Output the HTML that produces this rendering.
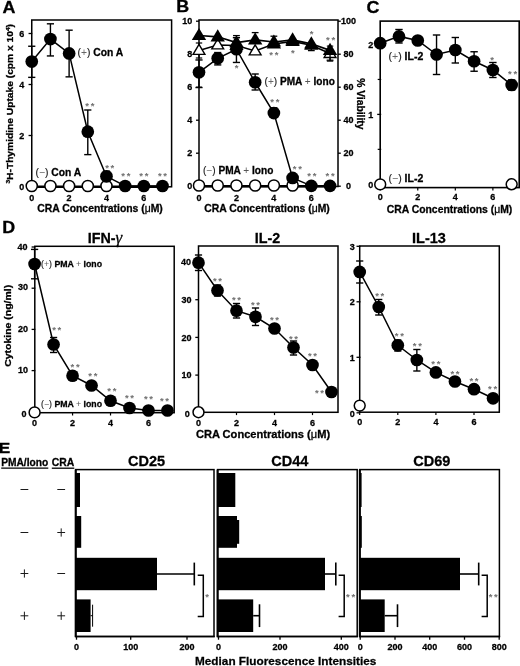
<!DOCTYPE html>
<html><head><meta charset="utf-8"><title>Figure</title>
<style>
html,body{margin:0;padding:0;background:#fff;}
body{width:520px;height:666px;overflow:hidden;}
svg{display:block;font-family:'Liberation Sans', Arial, sans-serif;}
svg text{stroke:#000;stroke-width:.28px;}
</style></head><body>
<svg width="520" height="666" viewBox="0 0 520 666">
<rect x="0" y="0" width="520" height="666" fill="#fff"/>
<text transform="translate(2.60,12.60) scale(1.12,1)" font-size="16" font-weight="bold">A</text>
<rect x="31.75" y="20.00" width="139.85" height="166.80" fill="none" stroke="#000" stroke-width="1.5"/>
<text x="24.20" y="189.70" font-size="9" font-weight="bold" text-anchor="end" fill="#000">0</text>
<line x1="28.55" y1="186.50" x2="32.25" y2="186.50" stroke="#000" stroke-width="1.3"/>
<text x="31.75" y="201.20" font-size="9" font-weight="bold" text-anchor="middle" fill="#000">0</text>
<text x="24.20" y="138.70" font-size="9" font-weight="bold" text-anchor="end" fill="#000">2</text>
<line x1="28.55" y1="135.50" x2="32.25" y2="135.50" stroke="#000" stroke-width="1.3"/>
<text x="69.11" y="201.20" font-size="9" font-weight="bold" text-anchor="middle" fill="#000">2</text>
<text x="24.20" y="87.70" font-size="9" font-weight="bold" text-anchor="end" fill="#000">4</text>
<line x1="28.55" y1="84.50" x2="32.25" y2="84.50" stroke="#000" stroke-width="1.3"/>
<text x="106.47" y="201.20" font-size="9" font-weight="bold" text-anchor="middle" fill="#000">4</text>
<text x="24.20" y="36.70" font-size="9" font-weight="bold" text-anchor="end" fill="#000">6</text>
<line x1="28.55" y1="33.50" x2="32.25" y2="33.50" stroke="#000" stroke-width="1.3"/>
<text x="143.83" y="201.20" font-size="9" font-weight="bold" text-anchor="middle" fill="#000">6</text>
<text transform="translate(13.4,103.8) rotate(-90) scale(1.1,1)" font-size="9.3" font-weight="bold" text-anchor="middle"><tspan font-size="6" dy="-3">3</tspan><tspan dy="3">H-Thymidine Uptake (cpm x 10</tspan><tspan font-size="6" dy="-3.3">4</tspan><tspan dy="3.3">)</tspan></text>
<text x="100.00" y="212.00" font-size="10.4" font-weight="bold" text-anchor="middle">CRA Concentrations (<tspan font-weight="normal">μ</tspan>M)</text>
<polyline points="31.75,186.80 50.43,186.80 69.11,186.80 87.79,186.80 106.47,186.80 125.15,186.80 143.83,186.80 162.51,186.80" fill="none" stroke="#000" stroke-width="2.5"/>
<circle cx="31.75" cy="186.00" r="5.55" fill="#fff" stroke="#000" stroke-width="1.5"/>
<circle cx="50.43" cy="186.00" r="5.55" fill="#fff" stroke="#000" stroke-width="1.5"/>
<circle cx="69.11" cy="186.00" r="5.55" fill="#fff" stroke="#000" stroke-width="1.5"/>
<circle cx="87.79" cy="186.00" r="5.55" fill="#fff" stroke="#000" stroke-width="1.5"/>
<circle cx="106.47" cy="186.00" r="5.55" fill="#fff" stroke="#000" stroke-width="1.5"/>
<line x1="31.75" y1="77.36" x2="31.75" y2="46.25" stroke="#000" stroke-width="1.4"/>
<line x1="28.15" y1="77.36" x2="35.35" y2="77.36" stroke="#000" stroke-width="1.4"/>
<line x1="28.15" y1="46.25" x2="35.35" y2="46.25" stroke="#000" stroke-width="1.4"/>
<line x1="50.43" y1="55.94" x2="50.43" y2="23.81" stroke="#000" stroke-width="1.4"/>
<line x1="46.83" y1="55.94" x2="54.03" y2="55.94" stroke="#000" stroke-width="1.4"/>
<line x1="46.83" y1="23.81" x2="54.03" y2="23.81" stroke="#000" stroke-width="1.4"/>
<line x1="69.11" y1="76.85" x2="69.11" y2="30.19" stroke="#000" stroke-width="1.4"/>
<line x1="65.51" y1="76.85" x2="72.71" y2="76.85" stroke="#000" stroke-width="1.4"/>
<line x1="65.51" y1="30.19" x2="72.71" y2="30.19" stroke="#000" stroke-width="1.4"/>
<line x1="87.79" y1="154.62" x2="87.79" y2="110.00" stroke="#000" stroke-width="1.4"/>
<line x1="84.19" y1="154.62" x2="91.39" y2="154.62" stroke="#000" stroke-width="1.4"/>
<line x1="84.19" y1="110.00" x2="91.39" y2="110.00" stroke="#000" stroke-width="1.4"/>
<line x1="106.47" y1="181.40" x2="106.47" y2="171.20" stroke="#000" stroke-width="1.4"/>
<line x1="102.87" y1="181.40" x2="110.07" y2="181.40" stroke="#000" stroke-width="1.4"/>
<line x1="102.87" y1="171.20" x2="110.07" y2="171.20" stroke="#000" stroke-width="1.4"/>
<polyline points="31.75,61.55 50.43,39.11 69.11,53.39 87.79,131.68 106.47,176.30 125.15,185.99 143.83,185.99 162.51,185.99" fill="none" stroke="#000" stroke-width="1.5"/>
<circle cx="31.75" cy="61.55" r="6.35" fill="#000"/>
<circle cx="50.43" cy="39.11" r="6.35" fill="#000"/>
<circle cx="69.11" cy="53.39" r="6.35" fill="#000"/>
<circle cx="87.79" cy="131.68" r="6.35" fill="#000"/>
<circle cx="106.47" cy="176.30" r="6.35" fill="#000"/>
<circle cx="125.15" cy="185.99" r="6.35" fill="#000"/>
<circle cx="143.83" cy="185.99" r="6.35" fill="#000"/>
<circle cx="162.51" cy="185.99" r="6.35" fill="#000"/>
<text x="77.60" y="55.60" font-size="10.3" font-weight="bold"><tspan font-weight="normal" fill="#1a1a1a" style="stroke:#1a1a1a;stroke-width:.15px">(<tspan fill="#666" style="stroke:none">+</tspan>)</tspan> Con A</text>
<text x="35.60" y="175.50" font-size="10.3" font-weight="bold"><tspan font-weight="normal" fill="#1a1a1a" style="stroke:#1a1a1a;stroke-width:.15px">(<tspan fill="#666" style="stroke:none">−</tspan>)</tspan> Con A</text>
<text x="90.64" y="109.47" font-size="9.5" font-weight="bold" text-anchor="middle" fill="#707070" style="stroke:none" letter-spacing="1.7">**</text>
<text x="110.62" y="171.47" font-size="9.5" font-weight="bold" text-anchor="middle" fill="#707070" style="stroke:none" letter-spacing="1.7">**</text>
<text x="126.70" y="178.87" font-size="9.5" font-weight="bold" text-anchor="middle" fill="#707070" style="stroke:none" letter-spacing="1.7">**</text>
<text x="144.68" y="178.87" font-size="9.5" font-weight="bold" text-anchor="middle" fill="#707070" style="stroke:none" letter-spacing="1.7">**</text>
<text x="163.36" y="178.87" font-size="9.5" font-weight="bold" text-anchor="middle" fill="#707070" style="stroke:none" letter-spacing="1.7">**</text>
<text transform="translate(176.30,12.40) scale(1.12,1)" font-size="16" font-weight="bold">B</text>
<rect x="199.00" y="20.00" width="139.00" height="166.50" fill="none" stroke="#000" stroke-width="1.5"/>
<text x="192.30" y="189.40" font-size="9" font-weight="bold" text-anchor="end" fill="#000">0</text>
<line x1="196.00" y1="186.20" x2="199.00" y2="186.20" stroke="#000" stroke-width="1.3"/>
<line x1="338.00" y1="186.20" x2="340.80" y2="186.20" stroke="#000" stroke-width="1.3"/>
<text x="348.40" y="189.40" font-size="9" font-weight="bold" text-anchor="middle" fill="#000">0</text>
<text x="192.30" y="156.40" font-size="9" font-weight="bold" text-anchor="end" fill="#000">2</text>
<line x1="196.00" y1="153.20" x2="199.00" y2="153.20" stroke="#000" stroke-width="1.3"/>
<line x1="338.00" y1="153.20" x2="340.80" y2="153.20" stroke="#000" stroke-width="1.3"/>
<text x="348.40" y="156.40" font-size="9" font-weight="bold" text-anchor="middle" fill="#000">20</text>
<text x="192.30" y="123.40" font-size="9" font-weight="bold" text-anchor="end" fill="#000">4</text>
<line x1="196.00" y1="120.20" x2="199.00" y2="120.20" stroke="#000" stroke-width="1.3"/>
<line x1="338.00" y1="120.20" x2="340.80" y2="120.20" stroke="#000" stroke-width="1.3"/>
<text x="348.40" y="123.40" font-size="9" font-weight="bold" text-anchor="middle" fill="#000">40</text>
<text x="192.30" y="90.40" font-size="9" font-weight="bold" text-anchor="end" fill="#000">6</text>
<line x1="196.00" y1="87.20" x2="202.00" y2="87.20" stroke="#000" stroke-width="1.3"/>
<line x1="338.00" y1="87.20" x2="340.80" y2="87.20" stroke="#000" stroke-width="1.3"/>
<text x="348.40" y="90.40" font-size="9" font-weight="bold" text-anchor="middle" fill="#000">60</text>
<text x="192.30" y="57.40" font-size="9" font-weight="bold" text-anchor="end" fill="#000">8</text>
<line x1="196.00" y1="54.20" x2="199.00" y2="54.20" stroke="#000" stroke-width="1.3"/>
<line x1="338.00" y1="54.20" x2="340.80" y2="54.20" stroke="#000" stroke-width="1.3"/>
<text x="348.40" y="57.40" font-size="9" font-weight="bold" text-anchor="middle" fill="#000">80</text>
<text x="192.30" y="24.40" font-size="9" font-weight="bold" text-anchor="end" fill="#000">10</text>
<line x1="196.00" y1="21.20" x2="199.00" y2="21.20" stroke="#000" stroke-width="1.3"/>
<line x1="338.00" y1="21.20" x2="340.80" y2="21.20" stroke="#000" stroke-width="1.3"/>
<text x="348.40" y="24.40" font-size="9" font-weight="bold" text-anchor="middle" fill="#000">100</text>
<text x="199.00" y="201.20" font-size="9" font-weight="bold" text-anchor="middle" fill="#000">0</text>
<text x="236.44" y="201.20" font-size="9" font-weight="bold" text-anchor="middle" fill="#000">2</text>
<text x="273.88" y="201.20" font-size="9" font-weight="bold" text-anchor="middle" fill="#000">4</text>
<text x="311.32" y="201.20" font-size="9" font-weight="bold" text-anchor="middle" fill="#000">6</text>
<text x="267.00" y="212.00" font-size="10.4" font-weight="bold" text-anchor="middle">CRA Concentrations (<tspan font-weight="normal">μ</tspan>M)</text>
<text transform="translate(357,103.8) rotate(90)" font-size="10.3" font-weight="bold" text-anchor="middle">% Viability</text>
<polyline points="199.00,186.30 217.72,186.30 236.44,186.30 255.16,186.30 273.88,186.30 292.60,186.30 311.32,186.30 330.04,186.30" fill="none" stroke="#000" stroke-width="2.5"/>
<circle cx="199.00" cy="185.50" r="5.55" fill="#fff" stroke="#000" stroke-width="1.5"/>
<circle cx="217.72" cy="185.50" r="5.55" fill="#fff" stroke="#000" stroke-width="1.5"/>
<circle cx="236.44" cy="185.50" r="5.55" fill="#fff" stroke="#000" stroke-width="1.5"/>
<circle cx="255.16" cy="185.50" r="5.55" fill="#fff" stroke="#000" stroke-width="1.5"/>
<circle cx="273.88" cy="185.50" r="5.55" fill="#fff" stroke="#000" stroke-width="1.5"/>
<circle cx="292.60" cy="185.50" r="5.55" fill="#fff" stroke="#000" stroke-width="1.5"/>
<polyline points="199.00,50.50 217.72,45.00 236.44,45.50 255.16,51.00 273.88,44.00 292.60,41.40 311.32,45.20 330.04,53.60" fill="none" stroke="#000" stroke-width="1.6"/>
<line x1="199.00" y1="43.00" x2="199.00" y2="58.00" stroke="#000" stroke-width="1.2"/>
<line x1="195.80" y1="43.00" x2="202.20" y2="43.00" stroke="#000" stroke-width="1.2"/>
<line x1="195.80" y1="58.00" x2="202.20" y2="58.00" stroke="#000" stroke-width="1.2"/>
<line x1="330.04" y1="46.10" x2="330.04" y2="61.10" stroke="#000" stroke-width="1.2"/>
<line x1="326.84" y1="46.10" x2="333.24" y2="46.10" stroke="#000" stroke-width="1.2"/>
<line x1="326.84" y1="61.10" x2="333.24" y2="61.10" stroke="#000" stroke-width="1.2"/>
<polygon points="199.00,44.40 193.10,54.40 204.90,54.40" fill="#fff" stroke="#000" stroke-width="1.4" stroke-linejoin="miter"/>
<polygon points="217.72,38.90 211.82,48.90 223.62,48.90" fill="#fff" stroke="#000" stroke-width="1.4" stroke-linejoin="miter"/>
<polygon points="236.44,39.40 230.54,49.40 242.34,49.40" fill="#fff" stroke="#000" stroke-width="1.4" stroke-linejoin="miter"/>
<polygon points="255.16,44.90 249.26,54.90 261.06,54.90" fill="#fff" stroke="#000" stroke-width="1.4" stroke-linejoin="miter"/>
<polygon points="273.88,36.40 266.68,48.60 281.08,48.60" fill="#000"/>
<polygon points="292.60,33.80 285.40,46.00 299.80,46.00" fill="#000"/>
<polygon points="311.32,37.60 304.12,49.80 318.52,49.80" fill="#000"/>
<polygon points="330.04,47.50 324.14,57.50 335.94,57.50" fill="#fff" stroke="#000" stroke-width="1.4" stroke-linejoin="miter"/>
<line x1="199.00" y1="87.53" x2="199.00" y2="59.97" stroke="#000" stroke-width="1.4"/>
<line x1="195.40" y1="87.53" x2="202.60" y2="87.53" stroke="#000" stroke-width="1.4"/>
<line x1="195.40" y1="59.97" x2="202.60" y2="59.97" stroke="#000" stroke-width="1.4"/>
<line x1="217.72" y1="64.92" x2="217.72" y2="52.55" stroke="#000" stroke-width="1.4"/>
<line x1="214.12" y1="64.92" x2="221.32" y2="64.92" stroke="#000" stroke-width="1.4"/>
<line x1="214.12" y1="52.55" x2="221.32" y2="52.55" stroke="#000" stroke-width="1.4"/>
<line x1="236.44" y1="62.45" x2="236.44" y2="37.70" stroke="#000" stroke-width="1.4"/>
<line x1="232.84" y1="62.45" x2="240.04" y2="62.45" stroke="#000" stroke-width="1.4"/>
<line x1="232.84" y1="37.70" x2="240.04" y2="37.70" stroke="#000" stroke-width="1.4"/>
<line x1="255.16" y1="90.00" x2="255.16" y2="74.00" stroke="#000" stroke-width="1.4"/>
<line x1="251.56" y1="90.00" x2="258.76" y2="90.00" stroke="#000" stroke-width="1.4"/>
<line x1="251.56" y1="74.00" x2="258.76" y2="74.00" stroke="#000" stroke-width="1.4"/>
<line x1="273.88" y1="116.90" x2="273.88" y2="107.82" stroke="#000" stroke-width="1.4"/>
<line x1="270.28" y1="116.90" x2="277.48" y2="116.90" stroke="#000" stroke-width="1.4"/>
<line x1="270.28" y1="107.82" x2="277.48" y2="107.82" stroke="#000" stroke-width="1.4"/>
<polyline points="199.00,72.35 217.72,58.32 236.44,49.25 255.16,82.25 273.88,113.10 292.60,177.95 311.32,185.87 330.04,185.87" fill="none" stroke="#000" stroke-width="1.5"/>
<circle cx="199.00" cy="72.35" r="6.35" fill="#000"/>
<circle cx="217.72" cy="58.32" r="6.35" fill="#000"/>
<circle cx="236.44" cy="49.25" r="6.35" fill="#000"/>
<circle cx="255.16" cy="82.25" r="6.35" fill="#000"/>
<circle cx="273.88" cy="113.10" r="6.35" fill="#000"/>
<circle cx="292.60" cy="177.95" r="6.35" fill="#000"/>
<circle cx="311.32" cy="185.87" r="6.35" fill="#000"/>
<circle cx="330.04" cy="185.87" r="6.35" fill="#000"/>
<polyline points="199.00,35.50 217.72,36.80 236.44,42.60 255.16,39.80 273.88,42.00 292.60,39.80 311.32,43.80 330.04,50.40" fill="none" stroke="#000" stroke-width="1.7"/>
<line x1="233.04" y1="35.60" x2="239.84" y2="35.60" stroke="#000" stroke-width="1.3"/>
<line x1="251.76" y1="32.60" x2="258.56" y2="32.60" stroke="#000" stroke-width="1.3"/>
<line x1="270.48" y1="36.20" x2="277.28" y2="36.20" stroke="#000" stroke-width="1.3"/>
<line x1="307.92" y1="50.60" x2="314.72" y2="50.60" stroke="#000" stroke-width="1.3"/>
<line x1="311.32" y1="43.80" x2="311.32" y2="50.60" stroke="#000" stroke-width="1.3"/>
<line x1="326.64" y1="60.20" x2="333.44" y2="60.20" stroke="#000" stroke-width="1.3"/>
<line x1="330.04" y1="50.40" x2="330.04" y2="60.20" stroke="#000" stroke-width="1.3"/>
<polygon points="199.00,27.90 191.80,40.10 206.20,40.10" fill="#000"/>
<polygon points="217.72,29.20 210.52,41.40 224.92,41.40" fill="#000"/>
<polygon points="236.44,35.00 229.24,47.20 243.64,47.20" fill="#000"/>
<polygon points="255.16,32.20 247.96,44.40 262.36,44.40" fill="#000"/>
<polygon points="273.88,34.40 266.68,46.60 281.08,46.60" fill="#000"/>
<polygon points="292.60,32.20 285.40,44.40 299.80,44.40" fill="#000"/>
<polygon points="311.32,36.20 304.12,48.40 318.52,48.40" fill="#000"/>
<polygon points="330.04,42.80 322.84,55.00 337.24,55.00" fill="#000"/>
<text x="264.50" y="84.80" font-size="10.1" font-weight="bold"><tspan font-weight="normal" fill="#1a1a1a" style="stroke:#1a1a1a;stroke-width:.15px">(<tspan fill="#666" style="stroke:none">+</tspan>)</tspan> PMA <tspan font-weight="normal" fill="#555" style="stroke:none">+</tspan> Iono</text>
<text x="203.00" y="174.30" font-size="10.1" font-weight="bold"><tspan font-weight="normal" fill="#1a1a1a" style="stroke:#1a1a1a;stroke-width:.15px">(<tspan fill="#666" style="stroke:none">−</tspan>)</tspan> PMA <tspan font-weight="normal" fill="#555" style="stroke:none">+</tspan> Iono</text>
<text x="237.34" y="71.47" font-size="9.5" font-weight="bold" text-anchor="middle" fill="#707070" style="stroke:none" letter-spacing="1.7">*</text>
<text x="274.73" y="58.47" font-size="9.5" font-weight="bold" text-anchor="middle" fill="#707070" style="stroke:none" letter-spacing="1.7">**</text>
<text x="293.80" y="56.06" font-size="9.5" font-weight="bold" text-anchor="middle" fill="#707070" style="stroke:none" letter-spacing="1.7">*</text>
<text x="312.52" y="37.06" font-size="9.5" font-weight="bold" text-anchor="middle" fill="#707070" style="stroke:none" letter-spacing="1.7">*</text>
<text x="331.49" y="43.47" font-size="9.5" font-weight="bold" text-anchor="middle" fill="#707070" style="stroke:none" letter-spacing="1.7">**</text>
<text x="275.73" y="105.47" font-size="9.5" font-weight="bold" text-anchor="middle" fill="#707070" style="stroke:none" letter-spacing="1.7">**</text>
<text x="298.25" y="172.47" font-size="9.5" font-weight="bold" text-anchor="middle" fill="#707070" style="stroke:none" letter-spacing="1.7">**</text>
<text x="312.77" y="178.77" font-size="9.5" font-weight="bold" text-anchor="middle" fill="#707070" style="stroke:none" letter-spacing="1.7">**</text>
<text x="330.89" y="178.87" font-size="9.5" font-weight="bold" text-anchor="middle" fill="#707070" style="stroke:none" letter-spacing="1.7">**</text>
<text transform="translate(366.40,13.10) scale(1.12,1)" font-size="16" font-weight="bold">C</text>
<rect x="380.20" y="21.10" width="139.00" height="166.50" fill="none" stroke="#000" stroke-width="1.6"/>
<text x="373.20" y="187.50" font-size="9" font-weight="bold" text-anchor="end" fill="#000">0</text>
<line x1="377.20" y1="184.30" x2="381.20" y2="184.30" stroke="#000" stroke-width="1.3"/>
<text x="373.20" y="117.60" font-size="9" font-weight="bold" text-anchor="end" fill="#000">1</text>
<line x1="377.20" y1="114.40" x2="381.20" y2="114.40" stroke="#000" stroke-width="1.3"/>
<text x="373.20" y="47.70" font-size="9" font-weight="bold" text-anchor="end" fill="#000">2</text>
<line x1="377.20" y1="44.50" x2="381.20" y2="44.50" stroke="#000" stroke-width="1.3"/>
<line x1="377.70" y1="149.35" x2="381.20" y2="149.35" stroke="#000" stroke-width="1.2"/>
<line x1="377.70" y1="79.45" x2="381.20" y2="79.45" stroke="#000" stroke-width="1.2"/>
<text x="380.20" y="199.60" font-size="9" font-weight="bold" text-anchor="middle" fill="#000">0</text>
<line x1="380.20" y1="187.60" x2="380.20" y2="190.40" stroke="#000" stroke-width="1.2"/>
<text x="417.76" y="199.60" font-size="9" font-weight="bold" text-anchor="middle" fill="#000">2</text>
<line x1="417.76" y1="187.60" x2="417.76" y2="190.40" stroke="#000" stroke-width="1.2"/>
<text x="455.32" y="199.60" font-size="9" font-weight="bold" text-anchor="middle" fill="#000">4</text>
<line x1="455.32" y1="187.60" x2="455.32" y2="190.40" stroke="#000" stroke-width="1.2"/>
<text x="492.88" y="199.60" font-size="9" font-weight="bold" text-anchor="middle" fill="#000">6</text>
<line x1="492.88" y1="187.60" x2="492.88" y2="190.40" stroke="#000" stroke-width="1.2"/>
<text x="449.50" y="212.60" font-size="10.4" font-weight="bold" text-anchor="middle">CRA Concentrations (<tspan font-weight="normal">μ</tspan>M)</text>
<circle cx="380.20" cy="184.40" r="5.45" fill="#fff" stroke="#000" stroke-width="1.5"/>
<circle cx="511.66" cy="184.30" r="5.45" fill="#fff" stroke="#000" stroke-width="1.5"/>
<line x1="398.98" y1="29.50" x2="398.98" y2="43.00" stroke="#000" stroke-width="1.4"/>
<line x1="395.28" y1="29.50" x2="402.68" y2="29.50" stroke="#000" stroke-width="1.4"/>
<line x1="395.28" y1="43.00" x2="402.68" y2="43.00" stroke="#000" stroke-width="1.4"/>
<line x1="436.54" y1="35.00" x2="436.54" y2="74.50" stroke="#000" stroke-width="1.4"/>
<line x1="432.84" y1="35.00" x2="440.24" y2="35.00" stroke="#000" stroke-width="1.4"/>
<line x1="432.84" y1="74.50" x2="440.24" y2="74.50" stroke="#000" stroke-width="1.4"/>
<line x1="455.32" y1="37.50" x2="455.32" y2="63.00" stroke="#000" stroke-width="1.4"/>
<line x1="451.62" y1="37.50" x2="459.02" y2="37.50" stroke="#000" stroke-width="1.4"/>
<line x1="451.62" y1="63.00" x2="459.02" y2="63.00" stroke="#000" stroke-width="1.4"/>
<line x1="474.10" y1="51.75" x2="474.10" y2="71.25" stroke="#000" stroke-width="1.4"/>
<line x1="470.40" y1="51.75" x2="477.80" y2="51.75" stroke="#000" stroke-width="1.4"/>
<line x1="470.40" y1="71.25" x2="477.80" y2="71.25" stroke="#000" stroke-width="1.4"/>
<line x1="492.88" y1="62.50" x2="492.88" y2="77.50" stroke="#000" stroke-width="1.4"/>
<line x1="489.18" y1="62.50" x2="496.58" y2="62.50" stroke="#000" stroke-width="1.4"/>
<line x1="489.18" y1="77.50" x2="496.58" y2="77.50" stroke="#000" stroke-width="1.4"/>
<line x1="511.66" y1="80.00" x2="511.66" y2="90.00" stroke="#000" stroke-width="1.4"/>
<line x1="507.96" y1="80.00" x2="515.36" y2="80.00" stroke="#000" stroke-width="1.4"/>
<line x1="507.96" y1="90.00" x2="515.36" y2="90.00" stroke="#000" stroke-width="1.4"/>
<polyline points="380.20,43.20 398.98,36.40 417.76,40.50 436.54,54.50 455.32,50.00 474.10,61.25 492.88,70.00 511.66,85.00" fill="none" stroke="#000" stroke-width="1.5"/>
<circle cx="380.20" cy="43.20" r="6.35" fill="#000"/>
<circle cx="398.98" cy="36.40" r="6.35" fill="#000"/>
<circle cx="417.76" cy="40.50" r="6.35" fill="#000"/>
<circle cx="436.54" cy="54.50" r="6.35" fill="#000"/>
<circle cx="455.32" cy="50.00" r="6.35" fill="#000"/>
<circle cx="474.10" cy="61.25" r="6.35" fill="#000"/>
<circle cx="492.88" cy="70.00" r="6.35" fill="#000"/>
<circle cx="511.66" cy="85.00" r="6.35" fill="#000"/>
<text x="388.50" y="59.50" font-size="10.5" font-weight="bold"><tspan font-weight="normal" fill="#1a1a1a" style="stroke:#1a1a1a;stroke-width:.15px">(<tspan fill="#666" style="stroke:none">+</tspan>)</tspan> IL-2</text>
<text x="388.50" y="182.00" font-size="10.5" font-weight="bold"><tspan font-weight="normal" fill="#1a1a1a" style="stroke:#1a1a1a;stroke-width:.15px">(<tspan fill="#666" style="stroke:none">−</tspan>)</tspan> IL-2</text>
<text x="492.88" y="62.97" font-size="9.5" font-weight="bold" text-anchor="middle" fill="#707070" style="stroke:none" letter-spacing="1.7">*</text>
<text x="513.51" y="77.27" font-size="9.5" font-weight="bold" text-anchor="middle" fill="#707070" style="stroke:none" letter-spacing="1.7">**</text>
<text transform="translate(2.30,233.20) scale(1.12,1)" font-size="16" font-weight="bold">D</text>
<rect x="34.80" y="246.30" width="139.40" height="166.40" fill="none" stroke="#000" stroke-width="1.5"/>
<text x="26.50" y="416.50" font-size="9" font-weight="bold" text-anchor="end" fill="#000">0</text>
<line x1="31.60" y1="411.80" x2="34.80" y2="411.80" stroke="#000" stroke-width="1.3"/>
<text x="28.00" y="373.20" font-size="9" font-weight="bold" text-anchor="end" fill="#000">10</text>
<line x1="31.60" y1="370.60" x2="35.30" y2="370.60" stroke="#000" stroke-width="1.3"/>
<text x="28.00" y="331.60" font-size="9" font-weight="bold" text-anchor="end" fill="#000">20</text>
<line x1="31.60" y1="329.40" x2="35.30" y2="329.40" stroke="#000" stroke-width="1.3"/>
<text x="28.00" y="290.40" font-size="9" font-weight="bold" text-anchor="end" fill="#000">30</text>
<line x1="31.60" y1="288.20" x2="35.30" y2="288.20" stroke="#000" stroke-width="1.3"/>
<text x="27.50" y="249.90" font-size="9" font-weight="bold" text-anchor="end" fill="#000">40</text>
<line x1="31.60" y1="247.00" x2="35.30" y2="247.00" stroke="#000" stroke-width="1.3"/>
<text x="34.60" y="426.20" font-size="9" font-weight="bold" text-anchor="middle" fill="#000">0</text>
<line x1="34.60" y1="412.70" x2="34.60" y2="415.50" stroke="#000" stroke-width="1.2"/>
<text x="72.56" y="426.20" font-size="9" font-weight="bold" text-anchor="middle" fill="#000">2</text>
<line x1="72.56" y1="412.70" x2="72.56" y2="415.50" stroke="#000" stroke-width="1.2"/>
<text x="110.52" y="426.20" font-size="9" font-weight="bold" text-anchor="middle" fill="#000">4</text>
<line x1="110.52" y1="412.70" x2="110.52" y2="415.50" stroke="#000" stroke-width="1.2"/>
<text x="148.48" y="426.20" font-size="9" font-weight="bold" text-anchor="middle" fill="#000">6</text>
<line x1="148.48" y1="412.70" x2="148.48" y2="415.50" stroke="#000" stroke-width="1.2"/>
<circle cx="34.60" cy="412.40" r="5.45" fill="#fff" stroke="#000" stroke-width="1.5"/>
<line x1="34.60" y1="249.40" x2="34.60" y2="278.80" stroke="#000" stroke-width="1.4"/>
<line x1="31.00" y1="249.40" x2="38.20" y2="249.40" stroke="#000" stroke-width="1.4"/>
<line x1="31.00" y1="278.80" x2="38.20" y2="278.80" stroke="#000" stroke-width="1.4"/>
<line x1="53.58" y1="337.50" x2="53.58" y2="352.50" stroke="#000" stroke-width="1.4"/>
<line x1="49.98" y1="337.50" x2="57.18" y2="337.50" stroke="#000" stroke-width="1.4"/>
<line x1="49.98" y1="352.50" x2="57.18" y2="352.50" stroke="#000" stroke-width="1.4"/>
<polyline points="34.60,264.00 53.58,344.50 72.56,375.75 91.54,385.50 110.52,400.75 129.50,408.00 148.48,410.50 167.46,410.50" fill="none" stroke="#000" stroke-width="1.5"/>
<circle cx="34.60" cy="264.00" r="6.35" fill="#000"/>
<circle cx="53.58" cy="344.50" r="6.35" fill="#000"/>
<circle cx="72.56" cy="375.75" r="6.35" fill="#000"/>
<circle cx="91.54" cy="385.50" r="6.35" fill="#000"/>
<circle cx="110.52" cy="400.75" r="6.35" fill="#000"/>
<circle cx="129.50" cy="408.00" r="6.35" fill="#000"/>
<circle cx="148.48" cy="410.50" r="6.35" fill="#000"/>
<circle cx="167.46" cy="410.50" r="6.35" fill="#000"/>
<text x="57.63" y="333.16" font-size="9.5" font-weight="bold" text-anchor="middle" fill="#707070" style="stroke:none" letter-spacing="1.7">**</text>
<text x="75.91" y="369.91" font-size="9.5" font-weight="bold" text-anchor="middle" fill="#707070" style="stroke:none" letter-spacing="1.7">**</text>
<text x="93.69" y="379.46" font-size="9.5" font-weight="bold" text-anchor="middle" fill="#707070" style="stroke:none" letter-spacing="1.7">**</text>
<text x="112.67" y="394.41" font-size="9.5" font-weight="bold" text-anchor="middle" fill="#707070" style="stroke:none" letter-spacing="1.7">**</text>
<text x="130.35" y="401.46" font-size="9.5" font-weight="bold" text-anchor="middle" fill="#707070" style="stroke:none" letter-spacing="1.7">**</text>
<text x="149.33" y="402.46" font-size="9.5" font-weight="bold" text-anchor="middle" fill="#707070" style="stroke:none" letter-spacing="1.7">**</text>
<text x="165.31" y="403.96" font-size="9.5" font-weight="bold" text-anchor="middle" fill="#707070" style="stroke:none" letter-spacing="1.7">**</text>
<text x="105" y="242.8" font-size="14.3" font-weight="bold" text-anchor="middle">IFN-<tspan font-weight="normal" font-size="17" font-family="'Liberation Serif', serif" font-style="italic">γ</tspan></text>
<text transform="translate(10.9,325.8) rotate(-90) scale(1.165,1)" font-size="9" font-weight="bold" text-anchor="middle">Cytokine (ng/ml)</text>
<text x="41.00" y="267.30" font-size="8.75" font-weight="bold"><tspan font-weight="normal" fill="#1a1a1a" style="stroke:#1a1a1a;stroke-width:.15px">(<tspan fill="#666" style="stroke:none">+</tspan>)</tspan> PMA <tspan font-weight="normal" fill="#555" style="stroke:none">+</tspan> Iono</text>
<text x="41.00" y="406.50" font-size="8.75" font-weight="bold"><tspan font-weight="normal" fill="#1a1a1a" style="stroke:#1a1a1a;stroke-width:.15px">(<tspan fill="#666" style="stroke:none">−</tspan>)</tspan> PMA <tspan font-weight="normal" fill="#555" style="stroke:none">+</tspan> Iono</text>
<rect x="198.50" y="246.00" width="139.50" height="166.30" fill="none" stroke="#000" stroke-width="1.5"/>
<text x="189.70" y="417.00" font-size="9" font-weight="bold" text-anchor="end" fill="#000">0</text>
<line x1="195.30" y1="412.80" x2="198.50" y2="412.80" stroke="#000" stroke-width="1.3"/>
<text x="191.50" y="378.30" font-size="9" font-weight="bold" text-anchor="end" fill="#000">10</text>
<line x1="195.30" y1="375.10" x2="199.00" y2="375.10" stroke="#000" stroke-width="1.3"/>
<text x="191.50" y="340.60" font-size="9" font-weight="bold" text-anchor="end" fill="#000">20</text>
<line x1="195.30" y1="337.40" x2="199.00" y2="337.40" stroke="#000" stroke-width="1.3"/>
<text x="191.50" y="302.90" font-size="9" font-weight="bold" text-anchor="end" fill="#000">30</text>
<line x1="195.30" y1="299.70" x2="199.00" y2="299.70" stroke="#000" stroke-width="1.3"/>
<text x="191.00" y="265.20" font-size="9" font-weight="bold" text-anchor="end" fill="#000">40</text>
<line x1="195.30" y1="262.00" x2="199.00" y2="262.00" stroke="#000" stroke-width="1.3"/>
<text x="198.50" y="425.70" font-size="9" font-weight="bold" text-anchor="middle" fill="#000">0</text>
<line x1="198.50" y1="412.30" x2="198.50" y2="415.10" stroke="#000" stroke-width="1.2"/>
<text x="236.50" y="425.70" font-size="9" font-weight="bold" text-anchor="middle" fill="#000">2</text>
<line x1="236.50" y1="412.30" x2="236.50" y2="415.10" stroke="#000" stroke-width="1.2"/>
<text x="274.50" y="425.70" font-size="9" font-weight="bold" text-anchor="middle" fill="#000">4</text>
<line x1="274.50" y1="412.30" x2="274.50" y2="415.10" stroke="#000" stroke-width="1.2"/>
<text x="312.50" y="425.70" font-size="9" font-weight="bold" text-anchor="middle" fill="#000">6</text>
<line x1="312.50" y1="412.30" x2="312.50" y2="415.10" stroke="#000" stroke-width="1.2"/>
<circle cx="198.50" cy="412.20" r="5.45" fill="#fff" stroke="#000" stroke-width="1.5"/>
<line x1="198.50" y1="255.00" x2="198.50" y2="270.50" stroke="#000" stroke-width="1.4"/>
<line x1="194.90" y1="255.00" x2="202.10" y2="255.00" stroke="#000" stroke-width="1.4"/>
<line x1="194.90" y1="270.50" x2="202.10" y2="270.50" stroke="#000" stroke-width="1.4"/>
<line x1="217.50" y1="285.00" x2="217.50" y2="296.00" stroke="#000" stroke-width="1.4"/>
<line x1="213.90" y1="285.00" x2="221.10" y2="285.00" stroke="#000" stroke-width="1.4"/>
<line x1="213.90" y1="296.00" x2="221.10" y2="296.00" stroke="#000" stroke-width="1.4"/>
<line x1="236.50" y1="303.50" x2="236.50" y2="318.00" stroke="#000" stroke-width="1.4"/>
<line x1="232.90" y1="303.50" x2="240.10" y2="303.50" stroke="#000" stroke-width="1.4"/>
<line x1="232.90" y1="318.00" x2="240.10" y2="318.00" stroke="#000" stroke-width="1.4"/>
<line x1="255.50" y1="308.00" x2="255.50" y2="325.50" stroke="#000" stroke-width="1.4"/>
<line x1="251.90" y1="308.00" x2="259.10" y2="308.00" stroke="#000" stroke-width="1.4"/>
<line x1="251.90" y1="325.50" x2="259.10" y2="325.50" stroke="#000" stroke-width="1.4"/>
<line x1="293.50" y1="341.00" x2="293.50" y2="355.00" stroke="#000" stroke-width="1.4"/>
<line x1="289.90" y1="341.00" x2="297.10" y2="341.00" stroke="#000" stroke-width="1.4"/>
<line x1="289.90" y1="355.00" x2="297.10" y2="355.00" stroke="#000" stroke-width="1.4"/>
<polyline points="198.50,262.70 217.50,290.50 236.50,310.70 255.50,316.80 274.50,328.50 293.50,347.50 312.50,365.00 331.50,392.00" fill="none" stroke="#000" stroke-width="1.5"/>
<circle cx="198.50" cy="262.70" r="6.35" fill="#000"/>
<circle cx="217.50" cy="290.50" r="6.35" fill="#000"/>
<circle cx="236.50" cy="310.70" r="6.35" fill="#000"/>
<circle cx="255.50" cy="316.80" r="6.35" fill="#000"/>
<circle cx="274.50" cy="328.50" r="6.35" fill="#000"/>
<circle cx="293.50" cy="347.50" r="6.35" fill="#000"/>
<circle cx="312.50" cy="365.00" r="6.35" fill="#000"/>
<circle cx="331.50" cy="392.00" r="6.35" fill="#000"/>
<text x="218.35" y="284.46" font-size="9.5" font-weight="bold" text-anchor="middle" fill="#707070" style="stroke:none" letter-spacing="1.7">**</text>
<text x="237.35" y="303.16" font-size="9.5" font-weight="bold" text-anchor="middle" fill="#707070" style="stroke:none" letter-spacing="1.7">**</text>
<text x="256.35" y="307.56" font-size="9.5" font-weight="bold" text-anchor="middle" fill="#707070" style="stroke:none" letter-spacing="1.7">**</text>
<text x="275.35" y="323.46" font-size="9.5" font-weight="bold" text-anchor="middle" fill="#707070" style="stroke:none" letter-spacing="1.7">**</text>
<text x="294.35" y="341.66" font-size="9.5" font-weight="bold" text-anchor="middle" fill="#707070" style="stroke:none" letter-spacing="1.7">**</text>
<text x="313.35" y="359.16" font-size="9.5" font-weight="bold" text-anchor="middle" fill="#707070" style="stroke:none" letter-spacing="1.7">**</text>
<text x="320.35" y="395.96" font-size="9.5" font-weight="bold" text-anchor="middle" fill="#707070" style="stroke:none" letter-spacing="1.7">**</text>
<text x="267.50" y="242.70" font-size="14.3" font-weight="bold" text-anchor="middle" fill="#000">IL-2</text>
<text x="263.00" y="438.00" font-size="11.1" font-weight="bold" text-anchor="middle">CRA Concentrations (<tspan font-weight="normal">μ</tspan>M)</text>
<rect x="359.70" y="246.00" width="139.60" height="166.20" fill="none" stroke="#000" stroke-width="1.5"/>
<text x="354.70" y="416.60" font-size="9" font-weight="bold" text-anchor="end" fill="#000">0</text>
<line x1="356.50" y1="412.80" x2="359.70" y2="412.80" stroke="#000" stroke-width="1.3"/>
<text x="354.70" y="360.50" font-size="9" font-weight="bold" text-anchor="end" fill="#000">1</text>
<line x1="356.50" y1="357.30" x2="360.50" y2="357.30" stroke="#000" stroke-width="1.3"/>
<text x="354.70" y="305.00" font-size="9" font-weight="bold" text-anchor="end" fill="#000">2</text>
<line x1="356.50" y1="301.80" x2="360.50" y2="301.80" stroke="#000" stroke-width="1.3"/>
<text x="354.70" y="249.50" font-size="9" font-weight="bold" text-anchor="end" fill="#000">3</text>
<line x1="356.50" y1="246.30" x2="360.50" y2="246.30" stroke="#000" stroke-width="1.3"/>
<text x="359.70" y="424.80" font-size="9" font-weight="bold" text-anchor="middle" fill="#000">0</text>
<line x1="359.70" y1="412.20" x2="359.70" y2="415.00" stroke="#000" stroke-width="1.2"/>
<text x="397.80" y="424.80" font-size="9" font-weight="bold" text-anchor="middle" fill="#000">2</text>
<line x1="397.80" y1="412.20" x2="397.80" y2="415.00" stroke="#000" stroke-width="1.2"/>
<text x="435.90" y="424.80" font-size="9" font-weight="bold" text-anchor="middle" fill="#000">4</text>
<line x1="435.90" y1="412.20" x2="435.90" y2="415.00" stroke="#000" stroke-width="1.2"/>
<text x="474.00" y="424.80" font-size="9" font-weight="bold" text-anchor="middle" fill="#000">6</text>
<line x1="474.00" y1="412.20" x2="474.00" y2="415.00" stroke="#000" stroke-width="1.2"/>
<circle cx="359.70" cy="405.60" r="5.45" fill="#fff" stroke="#000" stroke-width="1.5"/>
<line x1="359.70" y1="261.00" x2="359.70" y2="283.00" stroke="#000" stroke-width="1.4"/>
<line x1="356.10" y1="261.00" x2="363.30" y2="261.00" stroke="#000" stroke-width="1.4"/>
<line x1="356.10" y1="283.00" x2="363.30" y2="283.00" stroke="#000" stroke-width="1.4"/>
<line x1="378.75" y1="299.50" x2="378.75" y2="315.00" stroke="#000" stroke-width="1.4"/>
<line x1="375.15" y1="299.50" x2="382.35" y2="299.50" stroke="#000" stroke-width="1.4"/>
<line x1="375.15" y1="315.00" x2="382.35" y2="315.00" stroke="#000" stroke-width="1.4"/>
<line x1="397.80" y1="340.00" x2="397.80" y2="351.00" stroke="#000" stroke-width="1.4"/>
<line x1="394.20" y1="340.00" x2="401.40" y2="340.00" stroke="#000" stroke-width="1.4"/>
<line x1="394.20" y1="351.00" x2="401.40" y2="351.00" stroke="#000" stroke-width="1.4"/>
<line x1="416.85" y1="349.50" x2="416.85" y2="371.00" stroke="#000" stroke-width="1.4"/>
<line x1="413.25" y1="349.50" x2="420.45" y2="349.50" stroke="#000" stroke-width="1.4"/>
<line x1="413.25" y1="371.00" x2="420.45" y2="371.00" stroke="#000" stroke-width="1.4"/>
<polyline points="359.70,271.90 378.75,307.00 397.80,345.30 416.85,360.00 435.90,372.40 454.95,381.50 474.00,389.20 493.05,398.30" fill="none" stroke="#000" stroke-width="1.5"/>
<circle cx="359.70" cy="271.90" r="6.35" fill="#000"/>
<circle cx="378.75" cy="307.00" r="6.35" fill="#000"/>
<circle cx="397.80" cy="345.30" r="6.35" fill="#000"/>
<circle cx="416.85" cy="360.00" r="6.35" fill="#000"/>
<circle cx="435.90" cy="372.40" r="6.35" fill="#000"/>
<circle cx="454.95" cy="381.50" r="6.35" fill="#000"/>
<circle cx="474.00" cy="389.20" r="6.35" fill="#000"/>
<circle cx="493.05" cy="398.30" r="6.35" fill="#000"/>
<text x="380.60" y="299.46" font-size="9.5" font-weight="bold" text-anchor="middle" fill="#707070" style="stroke:none" letter-spacing="1.7">**</text>
<text x="400.15" y="338.56" font-size="9.5" font-weight="bold" text-anchor="middle" fill="#707070" style="stroke:none" letter-spacing="1.7">**</text>
<text x="418.20" y="349.46" font-size="9.5" font-weight="bold" text-anchor="middle" fill="#707070" style="stroke:none" letter-spacing="1.7">**</text>
<text x="436.75" y="366.86" font-size="9.5" font-weight="bold" text-anchor="middle" fill="#707070" style="stroke:none" letter-spacing="1.7">**</text>
<text x="455.80" y="376.66" font-size="9.5" font-weight="bold" text-anchor="middle" fill="#707070" style="stroke:none" letter-spacing="1.7">**</text>
<text x="474.85" y="383.66" font-size="9.5" font-weight="bold" text-anchor="middle" fill="#707070" style="stroke:none" letter-spacing="1.7">**</text>
<text x="493.40" y="391.96" font-size="9.5" font-weight="bold" text-anchor="middle" fill="#707070" style="stroke:none" letter-spacing="1.7">**</text>
<text x="429.00" y="242.70" font-size="14.5" font-weight="bold" text-anchor="middle" fill="#000">IL-13</text>
<text transform="translate(-1.20,453.20) scale(1.15,1)" font-size="15" font-weight="bold">E</text>
<text x="1.2" y="466.4" font-size="10.2" font-weight="bold" textLength="47" lengthAdjust="spacingAndGlyphs">PMA/Iono</text>
<text x="51.8" y="466.4" font-size="10.2" font-weight="bold" textLength="22.5" lengthAdjust="spacingAndGlyphs">CRA</text>
<line x1="1.20" y1="468.20" x2="48.30" y2="468.20" stroke="#000" stroke-width="1.3"/>
<line x1="51.80" y1="468.20" x2="74.30" y2="468.20" stroke="#000" stroke-width="1.3"/>
<line x1="20.50" y1="489.50" x2="28.30" y2="489.50" stroke="#1a1a1a" stroke-width="1.0"/>
<line x1="57.30" y1="489.50" x2="65.10" y2="489.50" stroke="#1a1a1a" stroke-width="1.0"/>
<line x1="20.50" y1="532.50" x2="28.30" y2="532.50" stroke="#1a1a1a" stroke-width="1.0"/>
<line x1="57.30" y1="532.50" x2="65.10" y2="532.50" stroke="#1a1a1a" stroke-width="1.0"/>
<line x1="61.20" y1="528.40" x2="61.20" y2="536.60" stroke="#1a1a1a" stroke-width="1.0"/>
<line x1="20.50" y1="573.50" x2="28.30" y2="573.50" stroke="#1a1a1a" stroke-width="1.0"/>
<line x1="24.40" y1="569.40" x2="24.40" y2="577.60" stroke="#1a1a1a" stroke-width="1.0"/>
<line x1="57.30" y1="573.50" x2="65.10" y2="573.50" stroke="#1a1a1a" stroke-width="1.0"/>
<line x1="20.50" y1="615.80" x2="28.30" y2="615.80" stroke="#1a1a1a" stroke-width="1.0"/>
<line x1="24.40" y1="611.70" x2="24.40" y2="619.90" stroke="#1a1a1a" stroke-width="1.0"/>
<line x1="57.30" y1="615.80" x2="65.10" y2="615.80" stroke="#1a1a1a" stroke-width="1.0"/>
<line x1="61.20" y1="611.70" x2="61.20" y2="619.90" stroke="#1a1a1a" stroke-width="1.0"/>
<rect x="75.70" y="469.60" width="138.30" height="166.90" fill="none" stroke="#000" stroke-width="1.5"/>
<line x1="75.70" y1="469.60" x2="75.70" y2="636.50" stroke="#000" stroke-width="2.0"/>
<line x1="74.80" y1="636.50" x2="214.75" y2="636.50" stroke="#000" stroke-width="1.7"/>
<rect x="75.70" y="473" width="4.30" height="34" fill="#000"/>
<rect x="75.70" y="516" width="5.50" height="31.799999999999955" fill="#000"/>
<rect x="75.70" y="557.8" width="81.30" height="32.40000000000009" fill="#000"/>
<line x1="157.00" y1="574.00" x2="194.30" y2="574.00" stroke="#000" stroke-width="1.6"/>
<line x1="194.30" y1="562.60" x2="194.30" y2="585.40" stroke="#000" stroke-width="1.6"/>
<rect x="75.70" y="599.4" width="14.90" height="32.60000000000002" fill="#000"/>
<line x1="90.60" y1="615.70" x2="92.60" y2="615.70" stroke="#000" stroke-width="1.0"/>
<line x1="92.60" y1="604.70" x2="92.60" y2="626.70" stroke="#000" stroke-width="1.0"/>
<text x="76.50" y="649.70" font-size="9" font-weight="bold" text-anchor="middle" fill="#000">0</text>
<line x1="76.50" y1="636.50" x2="76.50" y2="639.70" stroke="#000" stroke-width="1.3"/>
<text x="130.70" y="649.70" font-size="9" font-weight="bold" text-anchor="middle" fill="#000">100</text>
<line x1="130.70" y1="636.50" x2="130.70" y2="639.70" stroke="#000" stroke-width="1.3"/>
<text x="187.00" y="649.70" font-size="9" font-weight="bold" text-anchor="middle" fill="#000">200</text>
<line x1="187.00" y1="636.50" x2="187.00" y2="639.70" stroke="#000" stroke-width="1.3"/>
<text x="146.50" y="466.00" font-size="14.5" font-weight="bold" text-anchor="middle" fill="#000">CD25</text>
<polyline points="197.70,575.30 203.30,575.30 203.30,616.40 197.70,616.40" fill="none" stroke="#000" stroke-width="1.5"/>
<text x="207.90" y="599.97" font-size="9.5" font-weight="bold" text-anchor="middle" fill="#707070" style="stroke:none" letter-spacing="1.7">*</text>
<rect x="217.60" y="469.60" width="139.60" height="166.90" fill="none" stroke="#000" stroke-width="1.5"/>
<line x1="217.60" y1="469.60" x2="217.60" y2="636.50" stroke="#000" stroke-width="2.0"/>
<line x1="216.70" y1="636.50" x2="357.95" y2="636.50" stroke="#000" stroke-width="1.7"/>
<rect x="217.60" y="473" width="17.70" height="34" fill="#000"/>
<rect x="217.60" y="516" width="19.40" height="31.799999999999955" fill="#000"/>
<rect x="236.50" y="520" width="2.70" height="23.799999999999955" fill="#000"/>
<rect x="217.60" y="557.8" width="107.40" height="32.40000000000009" fill="#000"/>
<line x1="325.00" y1="574.00" x2="335.80" y2="574.00" stroke="#000" stroke-width="1.6"/>
<line x1="335.80" y1="562.60" x2="335.80" y2="585.40" stroke="#000" stroke-width="1.6"/>
<rect x="217.60" y="599.4" width="35.60" height="32.60000000000002" fill="#000"/>
<line x1="253.20" y1="615.70" x2="259.50" y2="615.70" stroke="#000" stroke-width="1.6"/>
<line x1="259.50" y1="604.30" x2="259.50" y2="627.10" stroke="#000" stroke-width="1.6"/>
<text x="218.50" y="649.70" font-size="9" font-weight="bold" text-anchor="middle" fill="#000">0</text>
<line x1="218.50" y1="636.50" x2="218.50" y2="639.70" stroke="#000" stroke-width="1.3"/>
<text x="280.00" y="649.70" font-size="9" font-weight="bold" text-anchor="middle" fill="#000">200</text>
<line x1="280.00" y1="636.50" x2="280.00" y2="639.70" stroke="#000" stroke-width="1.3"/>
<text x="341.30" y="649.70" font-size="9" font-weight="bold" text-anchor="middle" fill="#000">400</text>
<line x1="341.30" y1="636.50" x2="341.30" y2="639.70" stroke="#000" stroke-width="1.3"/>
<text x="289.80" y="466.00" font-size="14.5" font-weight="bold" text-anchor="middle" fill="#000">CD44</text>
<polyline points="338.60,575.30 344.20,575.30 344.20,616.40 338.60,616.40" fill="none" stroke="#000" stroke-width="1.5"/>
<text x="351.45" y="599.97" font-size="9.5" font-weight="bold" text-anchor="middle" fill="#707070" style="stroke:none" letter-spacing="1.7">**</text>
<rect x="359.80" y="469.60" width="139.60" height="166.90" fill="none" stroke="#000" stroke-width="1.5"/>
<line x1="359.80" y1="469.60" x2="359.80" y2="636.50" stroke="#000" stroke-width="2.0"/>
<line x1="358.90" y1="636.50" x2="500.15" y2="636.50" stroke="#000" stroke-width="1.7"/>
<rect x="359.80" y="473" width="1.80" height="34" fill="#000"/>
<rect x="359.80" y="516" width="2.00" height="31.799999999999955" fill="#000"/>
<rect x="359.80" y="557.8" width="100.20" height="32.40000000000009" fill="#000"/>
<line x1="460.00" y1="574.00" x2="478.70" y2="574.00" stroke="#000" stroke-width="1.6"/>
<line x1="478.70" y1="562.60" x2="478.70" y2="585.40" stroke="#000" stroke-width="1.6"/>
<rect x="359.80" y="599.4" width="24.90" height="32.60000000000002" fill="#000"/>
<line x1="384.70" y1="615.70" x2="397.50" y2="615.70" stroke="#000" stroke-width="1.6"/>
<line x1="397.50" y1="604.30" x2="397.50" y2="627.10" stroke="#000" stroke-width="1.6"/>
<text x="360.20" y="649.70" font-size="9" font-weight="bold" text-anchor="middle" fill="#000">0</text>
<line x1="360.20" y1="636.50" x2="360.20" y2="639.70" stroke="#000" stroke-width="1.3"/>
<text x="395.00" y="649.70" font-size="9" font-weight="bold" text-anchor="middle" fill="#000">200</text>
<line x1="395.00" y1="636.50" x2="395.00" y2="639.70" stroke="#000" stroke-width="1.3"/>
<text x="429.70" y="649.70" font-size="9" font-weight="bold" text-anchor="middle" fill="#000">400</text>
<line x1="429.70" y1="636.50" x2="429.70" y2="639.70" stroke="#000" stroke-width="1.3"/>
<text x="464.50" y="649.70" font-size="9" font-weight="bold" text-anchor="middle" fill="#000">600</text>
<line x1="464.50" y1="636.50" x2="464.50" y2="639.70" stroke="#000" stroke-width="1.3"/>
<text x="499.20" y="649.70" font-size="9" font-weight="bold" text-anchor="middle" fill="#000">800</text>
<line x1="499.20" y1="636.50" x2="499.20" y2="639.70" stroke="#000" stroke-width="1.3"/>
<text x="431.80" y="466.00" font-size="14.5" font-weight="bold" text-anchor="middle" fill="#000">CD69</text>
<polyline points="481.60,575.30 487.20,575.30 487.20,616.40 481.60,616.40" fill="none" stroke="#000" stroke-width="1.5"/>
<text x="494.05" y="599.97" font-size="9.5" font-weight="bold" text-anchor="middle" fill="#707070" style="stroke:none" letter-spacing="1.7">**</text>
<text x="195" y="665.2" font-size="11.8" font-weight="bold" textLength="181.3" lengthAdjust="spacingAndGlyphs">Median Fluorescence Intensities</text>
</svg>
</body></html>
